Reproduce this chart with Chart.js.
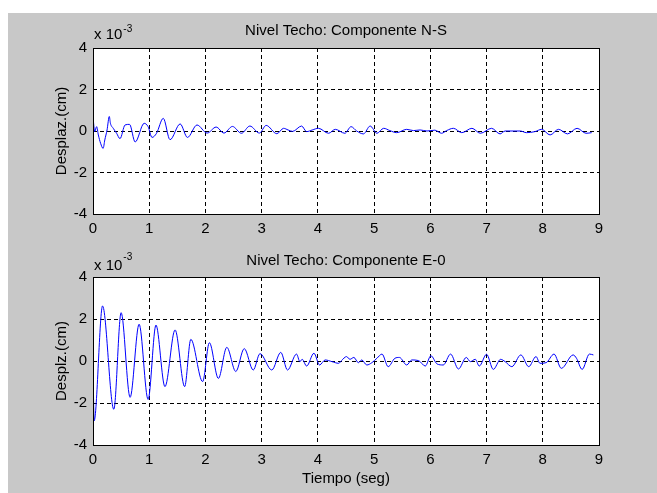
<!DOCTYPE html>
<html><head><meta charset="utf-8">
<script src="https://cdn.jsdelivr.net/npm/chart.js@4/dist/chart.umd.min.js"></script>
<style>
html,body{margin:0;padding:0;background:#fff;overflow:hidden;width:657px;height:493px;}
#fig{position:absolute;left:8px;top:13px;width:649px;height:480px;background:#c8c8c8;}
canvas{position:absolute;left:0;}
#c1{top:0}
#c2{top:246px}
</style></head><body>
<div id="fig"></div>
<canvas id="c1" width="657" height="246"></canvas>
<canvas id="c2" width="657" height="247"></canvas>
<script>
// ---- data (displacement in units of 1e-3 cm, time in s) ----
const xTicks = [0,1,2,3,4,5,6,7,8,9];
const yTicks = [-4,-2,0,2,4];
const titles = ['Nivel Techo: Componente N-S', 'Nivel Techo: Componente E-0'];
const yLabels = ['Desplaz.(cm)', 'Desplz.(cm)'];
const xLabel = 'Tiempo (seg)';

const nsPoints = [
 [0,0.70],[0.03,-0.03],[0.065,0.21],[0.095,-0.19],[0.135,-0.59],[0.18,-0.84],[0.21,-0.43],[0.25,0.05],
 [0.29,0.70],[0.31,0.37],[0.36,0.13],[0.42,-0.11],[0.48,-0.37],[0.57,0.29],[0.65,0.32],[0.75,-0.53],
 [0.91,0.37],[0.98,0.21],[1.05,-0.31],[1.13,-0.11],[1.25,0.61],[1.37,-0.42],[1.55,0.34],[1.68,-0.31],
 [1.85,0.29],[2.03,-0.10],[2.19,0.19],[2.33,-0.10],[2.48,0.22],[2.64,-0.11],[2.79,0.24],[2.96,-0.10],
 [3.08,0.27],[3.27,-0.13],[3.39,0.13],[3.47,0.05],[3.55,-0.02],[3.71,0.24],[3.80,-0.03],[3.90,0.05],
 [4.01,0.13],[4.19,-0.11],[4.31,0.08],[4.48,-0.11],[4.59,0.21],[4.69,0.0],[4.81,-0.14],[4.93,0.24],
 [5.05,-0.11],[5.17,0.13],[5.28,0.02],[5.40,-0.08],[5.58,0.08],[5.70,0.02],[5.82,0.05],[5.94,0.0],
 [6.08,0.04],[6.20,-0.11],[6.29,0.02],[6.41,0.13],[6.56,-0.08],[6.74,0.13],[6.89,-0.11],[7.09,0.13],
 [7.24,-0.14],[7.33,0.0],[7.60,0.0],[7.71,-0.08],[7.86,-0.03],[7.98,0.08],[8.13,-0.19],[8.28,0.08],
 [8.44,-0.14],[8.61,0.13],[8.77,-0.11],[8.87,-0.08]
];

const eoPoints = [
 [0,0],[0.02,-2.85],[0.17,2.62],[0.37,-2.30],[0.50,2.30],[0.66,-1.73],[0.82,1.75],[0.98,-1.83],
 [1.12,1.71],[1.28,-1.22],[1.46,1.48],[1.63,-1.22],[1.74,1.03],[1.95,-0.98],[2.07,0.87],[2.23,-0.83],
 [2.38,0.65],[2.54,-0.50],[2.69,0.59],[2.85,-0.43],[2.97,0.35],[3.18,-0.43],[3.34,0.41],[3.46,-0.43],
 [3.62,0.33],[3.68,-0.03],[3.72,0.08],[3.80,-0.24],[3.93,0.37],[4.03,-0.19],[4.13,0.05],[4.25,-0.03],
 [4.37,-0.11],[4.42,0.02],[4.51,0.21],[4.57,0.08],[4.64,0.17],[4.72,-0.08],[4.78,0.05],[4.87,-0.19],
 [4.96,-0.08],[5.05,0.13],[5.14,0.33],[5.25,-0.27],[5.37,0.13],[5.45,0.17],[5.58,-0.19],[5.67,0.05],
 [5.79,0.02],[5.91,-0.24],[6.01,0.25],[6.12,-0.14],[6.23,-0.19],[6.36,0.33],[6.50,-0.38],[6.64,0.17],
 [6.71,-0.03],[6.80,0.08],[6.87,-0.24],[7.00,0.32],[7.12,-0.40],[7.25,0.08],[7.33,-0.03],[7.45,-0.27],
 [7.61,0.29],[7.75,-0.27],[7.88,0.21],[7.95,-0.11],[8.06,-0.08],[8.20,0.33],[8.33,-0.35],[8.54,0.29],
 [8.60,0.13],[8.70,-0.40],[8.83,0.33],[8.90,0.29]
];

// ---- drawing ----
const FONT = "'Liberation Sans', Arial, Helvetica, sans-serif";

function figPlugin(o){
  return {
    id:'figtext',
    beforeDraw(chart){
      const {ctx, chartArea:a} = chart;
      ctx.save();
      ctx.fillStyle = '#ffffff';
      ctx.fillRect(a.left, a.top, a.right - a.left, a.bottom - a.top);
      ctx.restore();
    },
    afterDraw(chart){
      const {ctx, chartArea:a} = chart;
      ctx.save();
      ctx.strokeStyle = '#000';
      ctx.lineWidth = 1;
      ctx.setLineDash([]);
      ctx.strokeRect(a.left + 0.5, a.top + 0.5, a.right - a.left, a.bottom - a.top);
      ctx.fillStyle = '#000';
      ctx.textBaseline = 'alphabetic';
      // title
      ctx.font = '15px ' + FONT;
      ctx.textAlign = 'center';
      ctx.fillText(o.title, (a.left + a.right) / 2, o.titleY);
      // exponent
      ctx.textAlign = 'left';
      ctx.fillText('x 10', a.left + 1, o.expY);
      const w = ctx.measureText('x 10').width;
      ctx.font = '10px ' + FONT;
      ctx.fillText('-3', a.left + 1 + w + 1, o.expSupY);
      // y label
      ctx.font = '15px ' + FONT;
      ctx.save();
      ctx.translate(62, (a.top + a.bottom) / 2);
      ctx.rotate(-Math.PI / 2);
      ctx.textAlign = 'center';
      ctx.textBaseline = 'middle';
      ctx.fillText(o.ylabel, 0, 0);
      ctx.restore();
      if (o.xlabel){
        ctx.textAlign = 'center';
        ctx.fillText(o.xlabel, (a.left + a.right) / 2, o.xlabelY);
      }
      ctx.restore();
    }
  };
}

function makeChart(id, points, h, top, bottom, o){
  return new Chart(document.getElementById(id), {
    type:'line',
    data:{ datasets:[{
      data: points.map(p => ({x:p[0], y:p[1]})),
      borderColor:'#0000ff', borderWidth:1, pointRadius:0,
      cubicInterpolationMode:'monotone', fill:false
    }]},
    options:{
      responsive:false, animation:false, devicePixelRatio:1,
      layout:{ padding:{ left:0, top:top, right:58, bottom:0 } },
      plugins:{ legend:{display:false}, tooltip:{enabled:false}, title:{display:false} },
      scales:{
        x:{
          type:'linear', min:0, max:9,
          afterBuildTicks: s => { s.ticks = xTicks.map(v => ({value:v})); },
          afterFit: s => { s.height = h - bottom; },
          grid:{ color:'#000', lineWidth:1, drawTicks:false },
          border:{ display:false, dash:[4,3] },
          ticks:{ color:'#000', font:{ family:FONT, size:15 }, padding:6, maxRotation:0, autoSkip:false,
                  callback: v => String(v) }
        },
        y:{
          type:'linear', min:-4, max:4,
          afterBuildTicks: s => { s.ticks = yTicks.map(v => ({value:v})); },
          afterFit: s => { s.width = 93; },
          grid:{ color:'#000', lineWidth:1, drawTicks:false },
          border:{ display:false, dash:[4,3] },
          ticks:{ color:'#000', font:{ family:FONT, size:15 }, padding:6, autoSkip:false,
                  callback: v => String(v) }
        }
      }
    },
    plugins:[figPlugin(o)]
  });
}

makeChart('c1', nsPoints, 246, 48, 214, {
  title:titles[0], titleY:35, expY:39, expSupY:32, ylabel:yLabels[0]
});
makeChart('c2', eoPoints, 247, 31, 199, {
  title:titles[1], titleY:19, expY:24, expSupY:14, ylabel:yLabels[1], xlabel:xLabel, xlabelY:237
});
</script>
</body></html>
